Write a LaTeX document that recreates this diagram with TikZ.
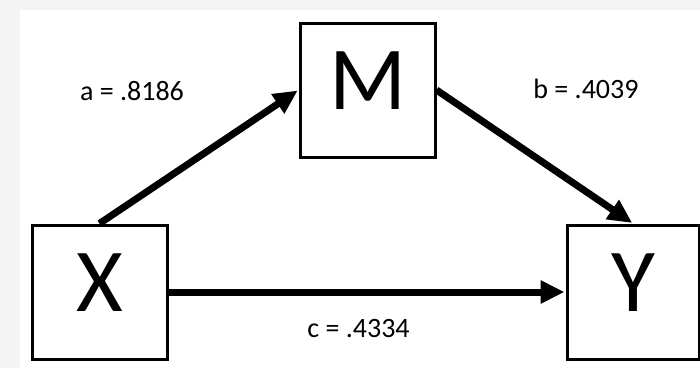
\documentclass[tikz,border=0pt]{standalone}
\usepackage{fontspec}
\setmainfont{Carlito}
\usetikzlibrary{arrows.meta}
\definecolor{edgegray}{RGB}{244,244,244}
\begin{document}
\begin{tikzpicture}[x=1pt,y=1pt,
  varbox/.style={draw=black,line width=3pt,fill=white,inner sep=0pt,
    minimum height=134pt,text depth=18pt,font=\fontsize{90}{90}\selectfont},
  path/.style={line width=7pt,-{Triangle[length=24pt,width=22pt]},shorten >=1pt},
  coef/.style={anchor=base,font=\fontsize{28}{30}\selectfont}]
\fill[edgegray] (0,0) rectangle (700,368);
\fill[white] (20,0) rectangle (700,358);
\useasboundingbox (0,0) rectangle (700,368);
\node[varbox,minimum width=135pt] (X) at (99.5,76) {X};
\node[varbox,minimum width=135pt] (M) at (367.5,278) {M};
\node[varbox,minimum width=132pt] (Y) at (633,76) {Y};
\draw[path] (X.north) -- (M.west);
\draw[path] (M.east) -- (Y.north);
\draw[path] (X.east) -- (Y.west);
\node[coef] (la) at (132,268) {a = .8186};
\node[coef] (lb) at (586,270) {b = .4039};
\node[coef] (lc) at (358.5,31) {c = .4334};
\end{tikzpicture}
\end{document}
